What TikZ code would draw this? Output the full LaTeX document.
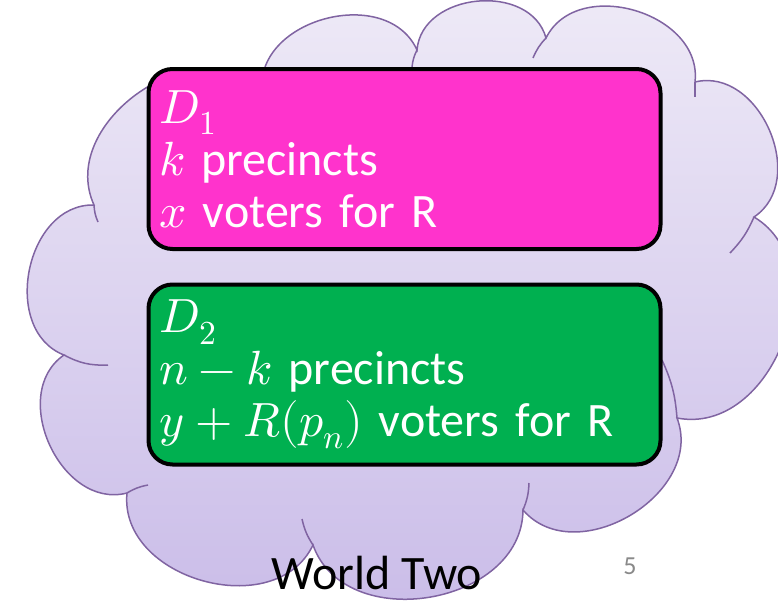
\documentclass[tikz,border=0pt]{standalone}
\usepackage{unicode-math}
\setmainfont{Carlito}
\setmathfont{Latin Modern Math}
\usepackage{xcolor}
\definecolor{wtlavtop}{RGB}{239,235,247}
\definecolor{wtlavbot}{RGB}{201,187,232}
\definecolor{wtpurple}{RGB}{128,100,162}
\definecolor{wtmagenta}{RGB}{255,51,204}
\definecolor{wtgreen}{RGB}{0,176,80}
\definecolor{wtgray}{RGB}{137,137,137}
\usepackage{tikz}
\usetikzlibrary{positioning}

\begin{document}
\begin{tikzpicture}[x=1pt, y=-1pt,
  lobe/.style={bend left=80, looseness=1.15},
  crease/.style={draw=wtpurple, line width=1.5pt},
  distbox/.style={draw=black, line width=4pt, rounded corners=24pt,
    minimum width=512pt, minimum height=180pt, text width=490pt,
    align=left, inner sep=0pt, text=white, font=\fontsize{48}{52}\selectfont}]
  \useasboundingbox (0,0) rectangle (778,602);
  \clip (0,0) rectangle (778,602);

  % Cloud
  \draw[draw=wtpurple, line width=1.5pt, top color=wtlavtop, bottom color=wtlavbot]
    (94,205) to[lobe] (262,90) to[lobe] (417,50) to[lobe] (546,38)
    to[lobe] (695,82) to[lobe] (754,217) to[lobe] (677,418)
    to[lobe] (523,510) to[lobe] (313,545) to[lobe] (127,493)
    to[lobe] (64,355) to[lobe] (94,205) -- cycle;
  \draw[crease] (94,205) to[bend right=10] (98,222);
  \draw[crease] (64,355) to[bend right=15] (108,365);
  \draw[crease] (127,493) to[bend left=10] (148,485);
  \draw[crease] (313,545) to[bend left=10] (302,519);
  \draw[crease] (523,510) to[bend right=10] (529,483);
  \draw[crease] (677,418) to[bend right=10] (662,360);
  \draw[crease] (754,217) to[bend left=10] (730,253);
  \draw[crease] (695,82) to (695,97);
  \draw[crease] (546,38) to[bend right=10] (533,58);
  \draw[crease] (417,50) to[bend right=10] (412,67);

  % District 1
  \node[distbox, fill=wtmagenta] (dist1) at (404.5,159)
    {$D_1$\\$k$ precincts\\$x$ voters for R};

  % District 2
  \node[distbox, fill=wtgreen] (dist2) at (404.5,374.5)
    {$D_2$\\$n-k$ precincts\\$y+R(p_n)$ voters for R};

  % Caption and slide number
  \node[font=\fontsize{48}{52}\selectfont, anchor=base] (world) at (377,589) {World Two};
  \node[font=\fontsize{26}{30}\selectfont, text=wtgray, anchor=base] (pagenum) at (630,574) {5};
\end{tikzpicture}
\end{document}
